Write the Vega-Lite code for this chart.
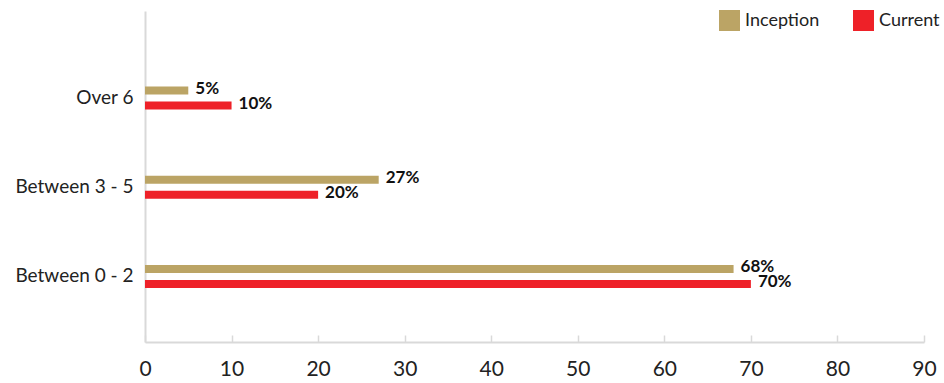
{
  "$schema": "https://vega.github.io/schema/vega-lite/v6.json",
  "width": 779,
  "height": 331,
  "autosize": "none",
  "padding": {"left": 145, "top": 11, "right": 20, "bottom": 41},
  "background": "white",
  "config": {
    "view": {"stroke": null},
    "font": "Lato",
    "axis": {"labelFont": "Lato", "labelColor": "#222222", "grid": false, "domainColor": "#d9d9d9", "domainWidth": 2, "title": null}
  },
  "data": {
    "values": [
      {"category": "Over 6", "series": "Inception", "value": 5, "label": "5%"},
      {"category": "Over 6", "series": "Current", "value": 10, "label": "10%"},
      {"category": "Between 3 - 5", "series": "Inception", "value": 27, "label": "27%"},
      {"category": "Between 3 - 5", "series": "Current", "value": 20, "label": "20%"},
      {"category": "Between 0 - 2", "series": "Inception", "value": 68, "label": "68%"},
      {"category": "Between 0 - 2", "series": "Current", "value": 70, "label": "70%"}
    ]
  },
  "encoding": {
    "y": {
      "field": "category",
      "type": "nominal",
      "sort": ["Over 6", "Between 3 - 5", "Between 0 - 2"],
      "scale": {"paddingInner": 0.742, "paddingOuter": 0.727, "align": 0.583},
      "axis": {"ticks": false, "labelFontSize": 19, "labelPadding": 12, "domainWidth": 2}
    },
    "yOffset": {
      "field": "series",
      "type": "nominal",
      "sort": ["Inception", "Current"],
      "scale": {"paddingInner": 0.467, "paddingOuter": 0}
    },
    "x": {
      "field": "value",
      "type": "quantitative",
      "scale": {"domain": [0, 90], "nice": false},
      "axis": {"values": [0, 10, 20, 30, 40, 50, 60, 70, 80, 90], "tickSize": -7, "tickColor": "#d9d9d9", "tickWidth": 1.5, "labelFontSize": 21, "labelPadding": 23, "labelFlush": false}
    }
  },
  "layer": [
    {
      "mark": {"type": "bar"},
      "encoding": {
        "color": {
          "field": "series",
          "type": "nominal",
          "sort": ["Inception", "Current"],
          "scale": {"domain": ["Inception", "Current"], "range": ["#BBA465", "#EE2128"]},
          "legend": {
            "orient": "none",
            "direction": "horizontal",
            "legendX": 574,
            "legendY": -1,
            "title": null,
            "symbolType": "square",
            "symbolSize": 441,
            "symbolStrokeWidth": 0,
            "labelFontSize": 18,
            "labelColor": "#222222",
            "labelOffset": 5,
            "columnPadding": 33
          }
        }
      }
    },
    {
      "mark": {"type": "text", "align": "left", "baseline": "middle", "dx": 7, "dy": -2, "fontWeight": "bold", "fontSize": 17, "color": "#111111"},
      "encoding": {"text": {"field": "label"}}
    }
  ]
}
